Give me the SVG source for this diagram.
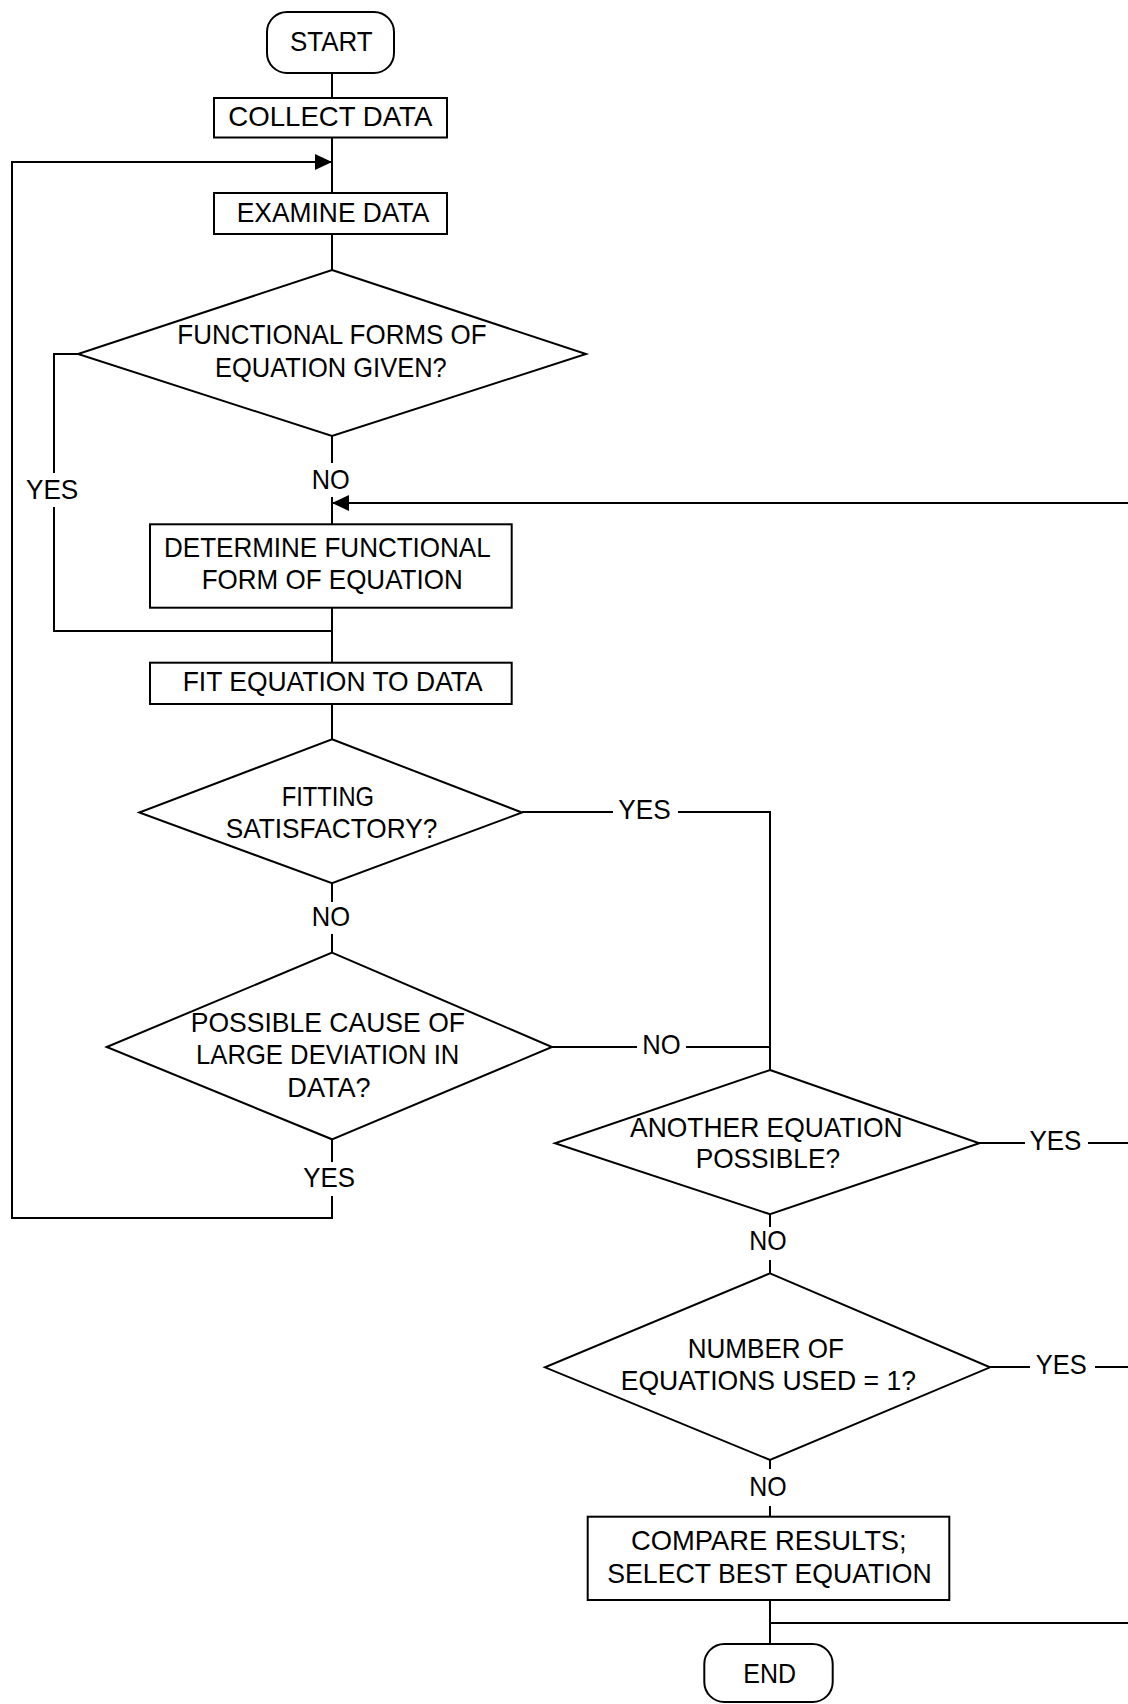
<svg xmlns="http://www.w3.org/2000/svg" width="1128" height="1704" viewBox="0 0 1128 1704">
<style>
.shape{fill:#fff;stroke:#000;stroke-width:2}
.ln{fill:none;stroke:#000;stroke-width:2}
text{font-family:"Liberation Sans",Arial,sans-serif;font-size:28px;fill:#000}
</style>
<defs>
<marker id="arr" markerUnits="userSpaceOnUse" markerWidth="18" markerHeight="17" refX="17" refY="8" orient="auto">
<path d="M0,0 L17,8 L0,16 z" fill="#000"/>
</marker>
</defs>
<rect width="1128" height="1704" fill="#fff"/>
<g id="connectors">
<path class="ln" d="M332,73 V98"/>
<path class="ln" d="M332,137 V193"/>
<path class="ln" d="M332,234 V270"/>
<path class="ln" d="M332,436 V463"/>
<path class="ln" d="M332,497 V524"/>
<path class="ln" d="M332,608 V663"/>
<path class="ln" d="M332,704 V739"/>
<path class="ln" d="M332,883 V902"/>
<path class="ln" d="M332,934 V953"/>
<path class="ln" d="M332,1139 V1162"/>
<path class="ln" d="M332,1196 V1218 H12 V162 H332" marker-end="url(#arr)"/>
<path class="ln" d="M78,354 H54 V473"/>
<path class="ln" d="M54,507 V631 H332"/>
<path class="ln" d="M1128,503 H332" marker-end="url(#arr)"/>
<path class="ln" d="M522,812 H613"/>
<path class="ln" d="M678,812 H770 V1070"/>
<path class="ln" d="M552,1047 H637"/>
<path class="ln" d="M686,1047 H770"/>
<path class="ln" d="M979,1143 H1025"/>
<path class="ln" d="M1088,1143 H1128"/>
<path class="ln" d="M990,1367 H1030"/>
<path class="ln" d="M1095,1367 H1128"/>
<path class="ln" d="M770,1214 V1227"/>
<path class="ln" d="M770,1260 V1273"/>
<path class="ln" d="M770,1460 V1469"/>
<path class="ln" d="M770,1506 V1517"/>
<path class="ln" d="M770,1600 V1644"/>
<path class="ln" d="M770,1623 H1128"/>
<text x="311.7" y="488.5" textLength="38" lengthAdjust="spacingAndGlyphs">NO</text>
<text x="26" y="499" textLength="52.3" lengthAdjust="spacingAndGlyphs">YES</text>
<text x="618.3" y="819" textLength="52.4" lengthAdjust="spacingAndGlyphs">YES</text>
<text x="311.7" y="925.7" textLength="38.3" lengthAdjust="spacingAndGlyphs">NO</text>
<text x="642.3" y="1054" textLength="38.4" lengthAdjust="spacingAndGlyphs">NO</text>
<text x="303.3" y="1186.7" textLength="51.7" lengthAdjust="spacingAndGlyphs">YES</text>
<text x="1029.4" y="1150" textLength="52" lengthAdjust="spacingAndGlyphs">YES</text>
<text x="749.3" y="1250" textLength="37.4" lengthAdjust="spacingAndGlyphs">NO</text>
<text x="1035.8" y="1373.5" textLength="51" lengthAdjust="spacingAndGlyphs">YES</text>
<text x="749.3" y="1496" textLength="37.4" lengthAdjust="spacingAndGlyphs">NO</text>
</g>
<g id="start">
<rect class="shape" x="267" y="12" width="127" height="61" rx="20" ry="20"/>
<text x="290" y="50.7" textLength="82.7" lengthAdjust="spacingAndGlyphs">START</text>
</g>
<g id="collect-data">
<rect class="shape" x="214" y="98" width="233" height="39.5"/>
<text x="228.3" y="125.7" textLength="204" lengthAdjust="spacingAndGlyphs">COLLECT DATA</text>
</g>
<g id="examine-data">
<rect class="shape" x="214" y="193" width="233" height="41"/>
<text x="236.7" y="221.7" textLength="192.6" lengthAdjust="spacingAndGlyphs">EXAMINE DATA</text>
</g>
<g id="functional-forms-given">
<polygon class="shape" points="332,270 586,354 332,436 78,354"/>
<text x="177.3" y="344" textLength="309.4" lengthAdjust="spacingAndGlyphs">FUNCTIONAL FORMS OF</text>
<text x="215" y="376.7" textLength="231.7" lengthAdjust="spacingAndGlyphs">EQUATION GIVEN?</text>
</g>
<g id="determine-form">
<rect class="shape" x="150" y="524.3" width="361.7" height="83.4"/>
<text x="164" y="557.3" textLength="326.7" lengthAdjust="spacingAndGlyphs">DETERMINE FUNCTIONAL</text>
<text x="201.7" y="589.3" textLength="261" lengthAdjust="spacingAndGlyphs">FORM OF EQUATION</text>
</g>
<g id="fit-equation">
<rect class="shape" x="150" y="662.7" width="361.7" height="41.3"/>
<text x="182.7" y="690.7" textLength="300" lengthAdjust="spacingAndGlyphs">FIT EQUATION TO DATA</text>
</g>
<g id="fitting-satisfactory">
<polygon class="shape" points="332,739.3 522,812.5 332,883.3 139.3,812.5"/>
<text x="281.7" y="805.7" textLength="92.3" lengthAdjust="spacingAndGlyphs">FITTING</text>
<text x="225.7" y="837.7" textLength="211.6" lengthAdjust="spacingAndGlyphs">SATISFACTORY?</text>
</g>
<g id="possible-cause">
<polygon class="shape" points="332,952.7 552,1047 332,1139.3 106.7,1047"/>
<text x="190.7" y="1031.7" textLength="274.3" lengthAdjust="spacingAndGlyphs">POSSIBLE CAUSE OF</text>
<text x="196" y="1064.3" textLength="263.3" lengthAdjust="spacingAndGlyphs">LARGE DEVIATION IN</text>
<text x="287.3" y="1096.7" textLength="83.4" lengthAdjust="spacingAndGlyphs">DATA?</text>
</g>
<g id="another-equation">
<polygon class="shape" points="770,1070 979.3,1143.3 770,1214.3 555,1143.3"/>
<text x="630" y="1136.7" textLength="272.7" lengthAdjust="spacingAndGlyphs">ANOTHER EQUATION</text>
<text x="695.7" y="1168.3" textLength="144.3" lengthAdjust="spacingAndGlyphs">POSSIBLE?</text>
</g>
<g id="number-of-equations">
<polygon class="shape" points="770,1273.3 990,1367.3 770,1460 545,1367.3"/>
<text x="687.7" y="1358.3" textLength="156.3" lengthAdjust="spacingAndGlyphs">NUMBER OF</text>
<text x="620.7" y="1390" textLength="295.3" lengthAdjust="spacingAndGlyphs">EQUATIONS USED = 1?</text>
</g>
<g id="compare-results">
<rect class="shape" x="587.7" y="1516.7" width="361.6" height="83.3"/>
<text x="631" y="1550" textLength="275.7" lengthAdjust="spacingAndGlyphs">COMPARE RESULTS;</text>
<text x="607.3" y="1582.7" textLength="324.4" lengthAdjust="spacingAndGlyphs">SELECT BEST EQUATION</text>
</g>
<g id="end">
<rect class="shape" x="704.3" y="1644" width="128.4" height="58" rx="20" ry="20"/>
<text x="743.3" y="1682.7" textLength="52.7" lengthAdjust="spacingAndGlyphs">END</text>
</g>
</svg>
